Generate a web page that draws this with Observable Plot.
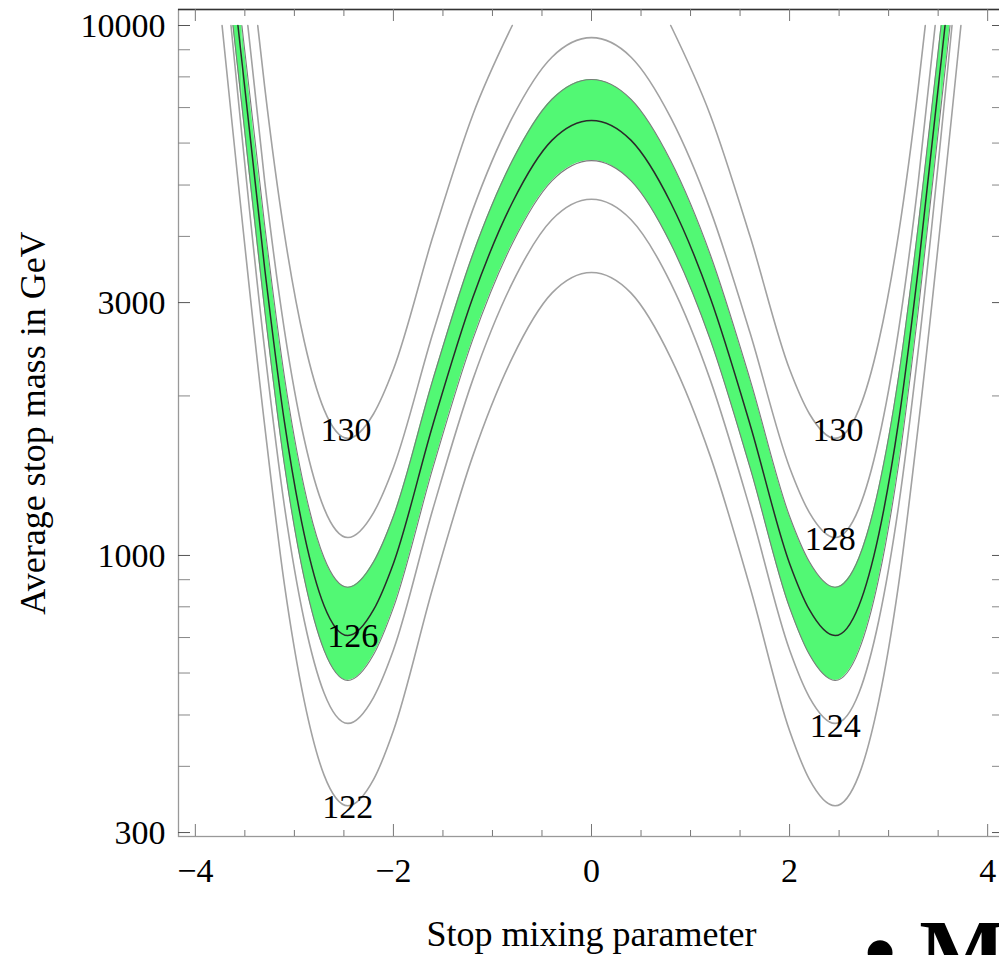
<!DOCTYPE html>
<html><head><meta charset="utf-8">
<script src="https://cdn.jsdelivr.net/npm/d3@7"></script>
<script src="https://cdn.jsdelivr.net/npm/@observablehq/plot@0.6"></script>
<style>
html,body{margin:0;padding:0;background:#fff;}
#wrap{position:relative;width:999px;height:955px;overflow:hidden;background:#fff;}
#bullet{position:absolute;left:864px;top:906px;font-family:"Liberation Serif",serif;font-weight:bold;font-size:92px;line-height:1;white-space:pre;color:#000;}
</style></head><body><div id="wrap"><div id="chart"></div><div id="bullet">• M</div></div>
<script>
// Stop mixing parameter grid (x) and stop mass (GeV) for each Higgs-mass contour
const xGrid = [-3.3,-3.1,-2.9,-2.7,-2.46,-2.2,-2.0,-1.6,-1.2,-0.8,-0.4,0,0.4,0.8,1.2,1.6,2.0,2.2,2.46,2.7,2.9,3.1,3.3];
const levels = [122,124,125,126,127,128,130];
const m122 = [1760,880,531,385,337,378,467,872,1538,2360,3126,3420,3126,2360,1538,872,467,378,337,385,531,880,1760];
const m124 = [2445,1237,753,550,482,540,663,1226,2142,3265,4299,4700,4299,3265,2142,1226,663,540,482,550,753,1237,2445];
const m125 = [2908,1480,904,662,581,650,797,1466,2551,3873,5090,5560,5090,3873,2551,1466,797,650,581,662,904,1480,2908];
const m126 = [3483,1784,1095,804,706,790,966,1769,3060,4630,6070,6620,6070,4630,3060,1769,966,790,706,804,1095,1784,3483];
const m127 = [4200,2171,1342,990,871,973,1186,2152,3694,5555,7255,7910,7255,5555,3694,2152,1186,973,871,990,1342,2171,4200];
const m128 = [5087,2657,1655,1227,1081,1205,1466,2634,4484,6700,8713,9485,8713,6700,4484,2634,1466,1205,1081,1227,1655,2657,5087];
const m130 = [7670,4040,2533,1884,1663,1851,2245,4005,6773,10000,null,null,null,10000,6773,4005,2245,1851,1663,1884,2533,4040,7670];
// |x| where each contour leaves the top of the plot (M = 10000)
const xEdge = [3.73,3.64,3.62,3.57,3.53,3.47,3.37];
const mTop = 10000;
// the 125 contour where the 127 contour leaves the top (|x| = 3.53)
const x125Extra = 3.53;
const m125Extra = 7060;

// contour labels
const labelText = ["130","130","128","126","124","122"];
const labelX = [-2.48,2.49,2.41,-2.41,2.46,-2.46];
const labelM = [1721,1721,1072,705,477,335];

// ticks
const xMajor = [-4,-2,0,2,4];
const xMinor = [-3.5,-3,-2.5,-1.5,-1,-0.5,0.5,1,1.5,2.5,3,3.5];
const yMajor = [300,1000,3000,10000];
const yMinor = [400,500,600,700,800,900,2000,4000,5000,6000,7000,8000,9000];

const valsByLevel = [m122,m124,m125,m126,m127,m128,m130];
const lineData = levels.flatMap((lev,i) => {
  const pts = xGrid.map((x,j) => ({level: lev, x, m: valsByLevel[i][j]}));
  const extraL = lev === 125 ? [{level: lev, x: -x125Extra, m: m125Extra}] : [];
  const extraR = lev === 125 ? [{level: lev, x: x125Extra, m: m125Extra}] : [];
  return [{level: lev, x: -xEdge[i], m: mTop}, ...extraL, ...pts, ...extraR, {level: lev, x: xEdge[i], m: mTop}];
});
const i127 = levels.indexOf(127), i125 = levels.indexOf(125);
const band = [
  {x: -xEdge[i127], lo: m125Extra, hi: mTop},
  ...xGrid.map((x,j) => ({x, lo: m125[j], hi: m127[j]})),
  {x: xEdge[i127], lo: m125Extra, hi: mTop}
];
const sliverL = [{x: -xEdge[i125], lo: mTop, hi: mTop}, {x: -xEdge[i127], lo: m125Extra, hi: mTop}];
const sliverR = [{x: xEdge[i127], lo: m125Extra, hi: mTop}, {x: xEdge[i125], lo: mTop, hi: mTop}];
const labels = labelText.map((t,i) => ({t, x: labelX[i], m: labelM[i]}));

const W = 1006, H = 955, mL = 178, mR = 2, mT = 9, mB = 119;
const innerW = W - mL - mR, innerH = H - mT - mB;
const yDom = [294.9, 10720];
const fmtX = d => d < 0 ? "\u2212" + (-d) : String(d);
const green = "#52f874";

const chart = Plot.plot({
  width: W, height: H,
  marginLeft: mL, marginRight: mR, marginTop: mT, marginBottom: mB,
  style: {maxWidth: "none", fontFamily: "'Liberation Serif', 'DejaVu Serif', serif", background: "#fff", overflow: "visible"},
  x: {domain: [-4.17, 4.17], axis: null},
  y: {type: "log", domain: yDom, axis: null},
  marks: [
    Plot.areaY(band, {x: "x", y1: "lo", y2: "hi", fill: green, curve: "monotone-x"}),
    Plot.areaY(sliverL, {x: "x", y1: "lo", y2: "hi", fill: green}),
    Plot.areaY(sliverR, {x: "x", y1: "lo", y2: "hi", fill: green}),
    Plot.line(lineData.filter(d => [122,124,128,130].includes(d.level)), {x: "x", y: "m", z: "level", stroke: "#a2a2a2", strokeWidth: 1.6, curve: "monotone-x"}),
    Plot.line(lineData.filter(d => d.level === 125 || d.level === 127), {x: "x", y: "m", z: "level", stroke: "#7a7a7a", strokeWidth: 1.1, curve: "monotone-x"}),
    Plot.line(lineData.filter(d => d.level === 126), {x: "x", y: "m", z: "level", stroke: "#2a2a2a", strokeWidth: 1.5, curve: "monotone-x"}),
    Plot.frame({stroke: "#999", strokeWidth: 1.3}),
    Plot.ruleY([yDom[1]], {stroke: "#333", strokeWidth: 1.3}),
    // bottom ticks
    Plot.ruleX(xMajor, {x: d => d, insetTop: innerH - 12, stroke: "#777"}),
    Plot.ruleX(xMinor, {x: d => d, insetTop: innerH - 6, stroke: "#777"}),
    // top ticks
    Plot.ruleX(xMajor, {x: d => d, insetBottom: innerH - 12, stroke: "#777"}),
    Plot.ruleX(xMinor, {x: d => d, insetBottom: innerH - 7, stroke: "#777"}),
    // left / right ticks
    Plot.ruleY(yMajor, {y: d => d, insetRight: innerW - 12, stroke: "#555"}),
    Plot.ruleY(yMinor, {y: d => d, insetRight: innerW - 12, stroke: "#888"}),
    Plot.ruleY(yMajor, {y: d => d, insetLeft: innerW - 12, stroke: "#555"}),
    Plot.ruleY(yMinor, {y: d => d, insetLeft: innerW - 12, stroke: "#888"}),
    // tick labels
    Plot.text(yMajor, {y: d => d, text: d => String(d), frameAnchor: "left", textAnchor: "end", dx: -13, dy: 1, fontSize: 34, fill: "#000"}),
    Plot.text(xMajor, {x: d => d, text: fmtX, frameAnchor: "bottom", lineAnchor: "top", dy: 21, fontSize: 34, fill: "#000"}),
    // contour labels
    Plot.text(labels, {x: "x", y: "m", text: "t", fontSize: 34, fill: "#000"}),
    // axis titles
    Plot.text(["Stop mixing parameter"], {text: d => d, frameAnchor: "bottom", textAnchor: "middle", lineAnchor: "bottom", dy: 109, fontSize: 36, fill: "#000"}),
    Plot.text(["Average stop mass in GeV"], {text: d => d, frameAnchor: "left", textAnchor: "middle", rotate: -90, dx: -145, fontSize: 36, fill: "#000"})
  ]
});
document.getElementById("chart").appendChild(chart);
</script></body></html>
